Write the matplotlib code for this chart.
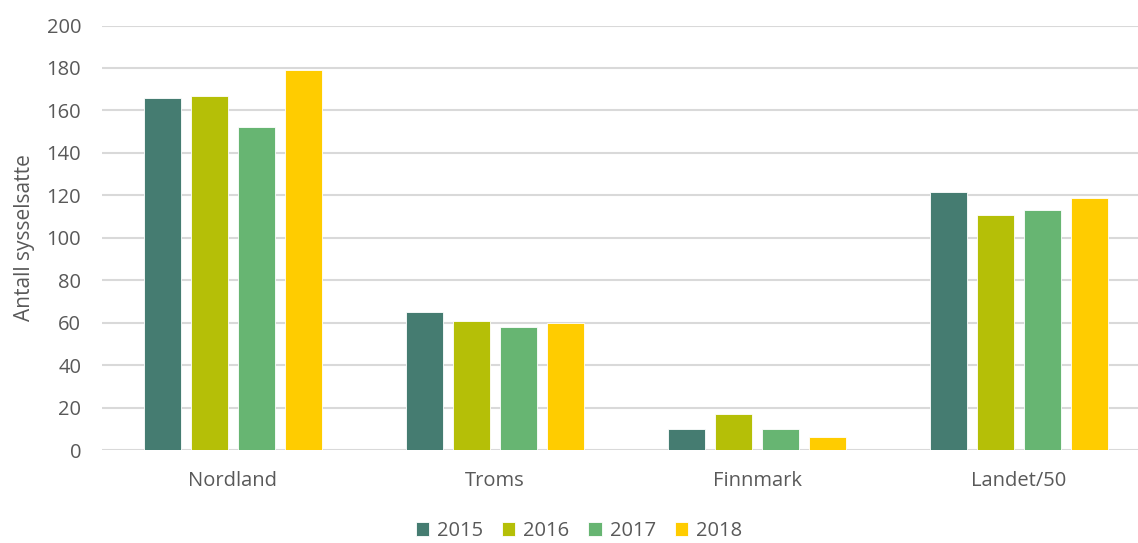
import numpy as np
from matplotlib import pyplot as plt

categories = ["Nordland", "Troms", "Finnmark", "Landet/50"]
years = ["2015", "2016", "2017", "2018"]
v2015 = [166, 65, 10, 121.4]
v2016 = [167, 61, 17, 110.6]
v2017 = [152, 58, 10, 113.2]
v2018 = [179, 60, 6, 118.6]
colors = ["#457C71", "#B5BF07", "#67B572", "#FFCC00"]

plt.rcParams["font.family"] = ["Open Sans", "DejaVu Sans"]
txt = "#595959"

fig = plt.figure(figsize=(11.38, 5.43), dpi=100)
ax = fig.add_axes([0.0896, 0.171, 0.921, 0.782])

x = np.arange(len(categories))
width = 0.141
step = 0.18
for i, (vals, yr) in enumerate(zip([v2015, v2016, v2017, v2018], years)):
    ax.bar(x + (i - 1.5) * step, vals, width, color=colors[i], label=yr,
           edgecolor="white", linewidth=0.6, zorder=3)

ax.set_ylim(0, 200)
ax.set_yticks(range(0, 201, 20))
ax.set_xlim(-0.5, 3.5)
ax.set_xticks(x)
ax.set_xticklabels(categories)
ax.grid(axis="y", color="#D9D9D9", linewidth=1.5, zorder=0)
for s in ax.spines.values():
    s.set_visible(False)
ax.tick_params(axis="both", length=0, colors=txt, labelsize=14.5)
ax.tick_params(axis="x", pad=15)
ax.tick_params(axis="y", pad=15)
ax.set_ylabel("Antall sysselsatte", color=txt, fontsize=15, labelpad=8)

ax.legend(loc="upper center", bbox_to_anchor=(0.455, -0.134), ncol=4, frameon=False,
          fontsize=14.5, labelcolor=txt, handlelength=0.65, handleheight=0.65,
          handletextpad=0.4, columnspacing=0.95, borderpad=0.2)

fig.savefig("out.png")
